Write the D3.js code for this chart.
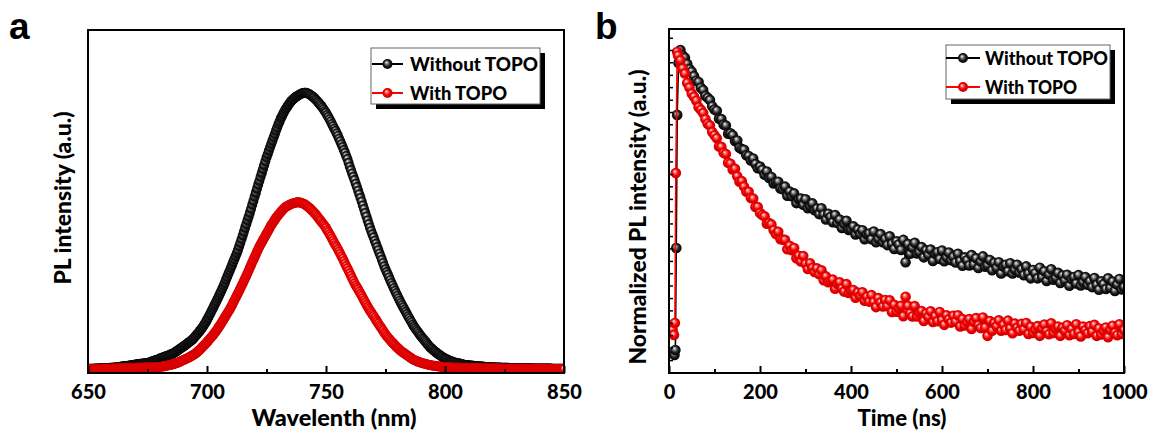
<!DOCTYPE html>
<html>
<head>
<meta charset="utf-8">
<script src="https://cdn.jsdelivr.net/npm/d3@7"></script>
<style>
  html, body { margin: 0; padding: 0; background: #fff; }
  svg { display: block; }
  text { font-family: Lato, "Open Sans", sans-serif; font-weight: 900; fill: #000; }
  .panel-label { font-family: "Liberation Sans", Arial, sans-serif; font-weight: 700; }
</style>
</head>
<body>
<svg id="chart" width="1153" height="437"></svg>
<script>
// ---------- Panel a: steady-state PL spectra (0.5 nm steps from 650 nm) ----------
const wavelengths = d3.range(650, 850.25, 0.5);
const plWithout = [
  .004,.004,.004,.004,.004,.004,.005,.005,.005,.005,
  .005,.006,.006,.006,.006,.007,.007,.007,.007,.008,
  .008,.008,.009,.009,.010,.010,.011,.011,.012,.012,
  .013,.013,.014,.014,.015,.016,.017,.017,.018,.019,
  .020,.020,.021,.021,.022,.022,.023,.023,.024,.024,
  .025,.026,.028,.029,.031,.032,.034,.035,.037,.038,
  .040,.042,.044,.045,.047,.048,.050,.051,.053,.055,
  .057,.058,.060,.063,.066,.069,.072,.075,.078,.081,
  .084,.087,.090,.093,.097,.100,.103,.106,.110,.115,
  .120,.125,.130,.135,.141,.146,.152,.158,.165,.172,
  .180,.188,.197,.205,.214,.222,.231,.239,.248,.257,
  .266,.275,.284,.294,.304,.314,.325,.335,.346,.356,
  .367,.377,.388,.398,.409,.420,.431,.444,.457,.470,
  .484,.497,.511,.524,.538,.551,.565,.579,.594,.608,
  .623,.637,.652,.666,.680,.694,.708,.722,.736,.750,
  .764,.776,.789,.801,.813,.825,.837,.849,.861,.872,
  .884,.894,.905,.913,.922,.930,.938,.944,.951,.957,
  .963,.968,.973,.976,.980,.983,.986,.988,.991,.993,
  .995,.996,.997,.997,.996,.994,.992,.989,.986,.982,
  .979,.974,.970,.965,.960,.955,.950,.944,.938,.931,
  .925,.917,.910,.902,.894,.885,.877,.868,.860,.851,
  .842,.832,.823,.812,.802,.791,.781,.770,.759,.745,
  .731,.719,.707,.695,.683,.670,.658,.645,.632,.619,
  .606,.592,.579,.565,.552,.538,.525,.512,.500,.488,
  .477,.465,.454,.442,.431,.419,.408,.396,.385,.373,
  .362,.352,.343,.333,.323,.313,.304,.294,.285,.276,
  .267,.258,.249,.241,.233,.225,.217,.209,.201,.193,
  .186,.178,.171,.163,.156,.150,.144,.138,.132,.126,
  .121,.115,.110,.105,.100,.094,.089,.084,.080,.076,
  .072,.068,.065,.061,.058,.055,.052,.049,.046,.043,
  .041,.039,.037,.035,.033,.031,.030,.028,.027,.026,
  .025,.024,.023,.022,.021,.020,.019,.018,.018,.017,
  .017,.016,.016,.015,.015,.014,.014,.013,.013,.012,
  .012,.012,.012,.011,.011,.011,.011,.010,.010,.010,
  .010,.010,.009,.009,.009,.009,.009,.008,.008,.008,
  .008,.008,.008,.008,.007,.007,.007,.007,.007,.007,
  .007,.007,.006,.006,.006,.006,.006,.006,.006,.006,
  .006,.006,.006,.006,.005,.005,.005,.005,.005,.005,
  .005,.005,.005,.005,.005,.005,.005,.005,.005,.005,
  .004,.004,.004,.004,.004,.004,.004,.004,.004,.004,
  .004
];
const plWith = [
  .003,.003,.003,.003,.003,.003,.003,.003,.003,.003,
  .003,.003,.004,.004,.004,.004,.004,.004,.004,.004,
  .004,.004,.005,.005,.005,.005,.005,.005,.005,.005,
  .006,.006,.006,.006,.006,.006,.007,.007,.007,.007,
  .007,.007,.008,.008,.008,.008,.008,.008,.009,.009,
  .009,.009,.009,.009,.009,.009,.009,.009,.010,.010,
  .011,.011,.012,.012,.013,.014,.015,.016,.017,.018,
  .019,.020,.021,.022,.024,.025,.027,.029,.031,.033,
  .035,.037,.039,.041,.043,.045,.048,.050,.053,.055,
  .058,.061,.065,.069,.073,.077,.082,.086,.091,.095,
  .100,.105,.110,.115,.120,.125,.130,.136,.142,.148,
  .155,.161,.168,.175,.182,.189,.196,.203,.210,.217,
  .225,.233,.242,.250,.259,.267,.276,.284,.293,.302,
  .311,.320,.329,.338,.348,.358,.368,.377,.387,.396,
  .406,.415,.425,.434,.443,.451,.459,.467,.475,.482,
  .490,.497,.505,.513,.521,.527,.534,.540,.547,.552,
  .558,.563,.568,.573,.578,.582,.586,.588,.591,.593,
  .595,.597,.599,.600,.601,.602,.603,.603,.602,.601,
  .600,.598,.596,.593,.590,.586,.583,.579,.575,.570,
  .566,.561,.556,.550,.545,.539,.534,.528,.523,.517,
  .511,.503,.496,.488,.481,.473,.465,.457,.449,.442,
  .434,.426,.418,.409,.401,.392,.383,.374,.366,.357,
  .348,.339,.330,.321,.312,.304,.297,.290,.282,.274,
  .267,.259,.251,.243,.235,.227,.220,.213,.207,.200,
  .194,.187,.180,.173,.167,.160,.154,.147,.141,.134,
  .128,.122,.117,.112,.107,.102,.098,.093,.089,.084,
  .080,.076,.072,.068,.065,.062,.059,.056,.053,.050,
  .047,.044,.041,.038,.036,.034,.032,.030,.029,.027,
  .026,.024,.023,.022,.021,.020,.019,.018,.017,.016,
  .015,.015,.014,.013,.013,.012,.012,.011,.011,.010,
  .010,.010,.010,.009,.009,.009,.009,.008,.008,.008,
  .008,.008,.008,.007,.007,.007,.007,.007,.007,.007,
  .007,.006,.006,.006,.006,.006,.006,.006,.006,.006,
  .006,.005,.005,.005,.005,.005,.005,.005,.005,.005,
  .005,.005,.005,.005,.005,.005,.005,.004,.004,.004,
  .004,.004,.004,.004,.004,.004,.004,.004,.004,.004,
  .004,.004,.004,.004,.004,.004,.004,.004,.004,.004,
  .004,.004,.004,.004,.004,.004,.004,.004,.004,.004,
  .004,.004,.004,.004,.004,.004,.004,.004,.003,.003,
  .003,.003,.003,.003,.003,.003,.003,.003,.003,.003,
  .003
];
const wlMajorTicks = [650, 700, 750, 800, 850];
const wlMinorTicks = [675, 725, 775, 825];

// ---------- Panel b: normalized TRPL decays ----------
// rising edge, then 5 ns channels
const riseTimesWithout = [12, 14, 16, 18, 21];
const riseWithout = [.056, .071, .387, .799, .960];
const decayTimesWithout = d3.range(25, 1001, 5);
const decayWithout = [
  1.000,.983,.976,.957,.941,.933,.919,.905,.901,.883,
  .876,.858,.852,.845,.826,.816,.812,.787,.786,.769,
  .766,.741,.742,.736,.718,.720,.697,.693,.691,.674,
  .672,.658,.664,.647,.634,.639,.629,.614,.624,.604,
  .607,.587,.591,.592,.571,.569,.577,.549,.562,.547,
  .556,.526,.538,.540,.521,.538,.510,.517,.525,.504,
  .509,.492,.510,.490,.475,.493,.483,.467,.489,.464,
  .475,.449,.462,.471,.443,.445,.454,.429,.444,.431,
  .442,.414,.429,.432,.414,.438,.405,.416,.430,.405,
  .415,.396,.423,.400,.384,.408,.398,.381,.412,.343,
  .399,.369,.388,.403,.370,.375,.390,.358,.380,.366,
  .382,.347,.369,.374,.353,.379,.346,.358,.373,.349,
  .360,.342,.369,.347,.332,.358,.349,.333,.365,.336,
  .355,.325,.345,.361,.329,.334,.350,.318,.341,.326,
  .343,.308,.330,.335,.315,.340,.308,.320,.335,.311,
  .321,.303,.330,.308,.293,.319,.309,.293,.326,.297,
  .315,.285,.305,.321,.289,.295,.310,.279,.302,.287,
  .304,.270,.291,.297,.277,.303,.271,.282,.297,.273,
  .284,.266,.294,.273,.258,.284,.275,.260,.293,.264,
  .283,.254,.274,.291,.259,.266
];
const riseTimesWith = [5, 8, 11, 13, 15, 18];
const riseWith = [.146, .133, .118, .155, .619, .994];
const decayTimesWith = d3.range(20, 1001, 5);
const decayWith = [
  .983,.968,.943,.927,.898,.884,.865,.855,.843,.823,
  .815,.805,.786,.772,.766,.746,.736,.727,.701,.700,
  .682,.678,.651,.648,.630,.632,.609,.592,.594,.577,
  .561,.561,.542,.540,.514,.514,.495,.489,.485,.462,
  .464,.460,.442,.430,.437,.414,.413,.412,.383,.394,
  .380,.387,.355,.363,.345,.362,.338,.322,.340,.325,
  .313,.324,.306,.318,.287,.299,.281,.285,.289,.261,
  .276,.281,.262,.252,.275,.248,.254,.257,.233,.249,
  .239,.250,.224,.236,.221,.241,.220,.204,.232,.218,
  .206,.226,.207,.225,.189,.211,.190,.200,.208,.176,
  .236,.208,.185,.175,.207,.175,.185,.192,.161,.184,
  .174,.191,.158,.176,.160,.189,.164,.149,.179,.166,
  .156,.177,.159,.179,.144,.167,.147,.158,.167,.136,
  .159,.170,.148,.139,.172,.141,.115,.161,.131,.155,
  .145,.163,.131,.149,.133,.162,.138,.123,.153,.140,
  .131,.152,.135,.155,.121,.143,.124,.135,.145,.115,
  .138,.150,.129,.120,.154,.124,.136,.144,.115,.140,
  .131,.148,.117,.136,.121,.151,.127,.113,.144,.132,
  .123,.145,.128,.149,.115,.138,.119,.131,.141,.111,
  .134,.146,.125,.117,.151,.121,.133
];
const timeMajorTicks = [0, 200, 400, 600, 800, 1000];
const timeMinorTicks = [100, 300, 500, 700, 900];
// unlabeled intensity ticks along the left axis
const intensityTicks = [
  1.038, 1.000, .962, .923, .885, .846, .808, .770, .731, .693,
  .655, .616, .578, .539, .501, .463, .424, .386, .347, .309,
  .271, .232, .194, .155, .117, .079, .040
];

const seriesNames = ["Without TOPO", "With TOPO"];

// ---------- drawing ----------
const svg = d3.select("#chart");
const defs = svg.append("defs");

function ballGradient(id, stops) {
  const g = defs.append("radialGradient").attr("id", id)
    .attr("cx", "50%").attr("cy", "50%").attr("r", "50%")
    .attr("fx", "38%").attr("fy", "32%");
  stops.forEach(([o, c]) => g.append("stop").attr("offset", o).attr("stop-color", c));
}
ballGradient("ballBlack", [["0%", "#f7f7f7"], ["28%", "#8c8c8c"], ["60%", "#222"], ["100%", "#000"]]);
ballGradient("ballRed", [["0%", "#ffeeee"], ["28%", "#ff6a6a"], ["60%", "#f20000"], ["100%", "#cc0000"]]);

const styles = [
  { line: "#000", fill: "url(#ballBlack)" },
  { line: "#f00", fill: "url(#ballRed)" }
];

function drawFrame(g, x0, y0, w, h) {
  g.append("rect").attr("x", x0).attr("y", y0).attr("width", w).attr("height", h)
    .attr("fill", "none").attr("stroke", "#000").attr("stroke-width", 2);
}

function drawSeries(g, pts, x, y, st, r) {
  const line = d3.line().x(d => x(d[0])).y(d => y(d[1]));
  g.append("path").datum(pts).attr("d", line)
    .attr("fill", "none").attr("stroke", st.line).attr("stroke-width", 1.6);
  g.selectAll(null).data(pts).join("circle")
    .attr("cx", d => x(d[0])).attr("cy", d => y(d[1])).attr("r", r)
    .attr("fill", st.fill);
}

function drawLegend(g, box, rowY, lineX0, lineX1, textX, textW) {
  const [bx, by, bw, bh] = box;
  g.append("rect").attr("x", bx + 5).attr("y", by + 5).attr("width", bw).attr("height", bh).attr("fill", "#000");
  g.append("rect").attr("x", bx).attr("y", by).attr("width", bw).attr("height", bh)
    .attr("fill", "#fff").attr("stroke", "#666").attr("stroke-width", 1);
  seriesNames.forEach((name, i) => {
    const yy = rowY[i];
    g.append("line").attr("x1", lineX0).attr("x2", lineX1).attr("y1", yy).attr("y2", yy)
      .attr("stroke", styles[i].line).attr("stroke-width", 2);
    g.append("circle").attr("cx", (lineX0 + lineX1) / 2).attr("cy", yy).attr("r", 5).attr("fill", styles[i].fill);
    g.append("text").attr("x", textX).attr("y", yy + 6.5).attr("font-size", 19)
      .attr("textLength", textW[i]).attr("lengthAdjust", "spacingAndGlyphs").text(name);
  });
}

function xAxisTicks(g, x, yBase, major, minor) {
  const ax = g.append("g").attr("transform", `translate(0,${yBase})`);
  ax.call(d3.axisBottom(x).tickValues(major).tickSize(-7).tickPadding(12).tickFormat(d3.format("d")));
  ax.select(".domain").remove();
  ax.selectAll(".tick line").attr("stroke-width", 2);
  ax.selectAll("text").attr("font-size", 20).attr("font-family", "Lato, sans-serif").attr("font-weight", 900);
  const mi = g.append("g").attr("transform", `translate(0,${yBase})`);
  mi.call(d3.axisBottom(x).tickValues(minor).tickSize(-4).tickFormat(""));
  mi.select(".domain").remove();
  mi.selectAll(".tick line").attr("stroke-width", 2);
}

// ===== Panel a =====
{
  const L = 88, R = 564, T = 30, B = 373;
  const x = d3.scaleLinear().domain([650, 850]).range([L, R]);
  const y = d3.scaleLinear().domain([-0.011, 1.223]).range([B, T]);
  const g = svg.append("g");
  defs.append("clipPath").attr("id", "clipA").append("rect").attr("x", L).attr("y", T).attr("width", R - L).attr("height", B - T);
  const plot = g.append("g").attr("clip-path", "url(#clipA)");
  drawSeries(plot, wavelengths.map((w, i) => [w, plWithout[i]]), x, y, styles[0], 5);
  drawSeries(plot, wavelengths.map((w, i) => [w, plWith[i]]), x, y, styles[1], 5);
  xAxisTicks(g, x, B, wlMajorTicks, wlMinorTicks);
  drawFrame(g, L, T, R - L, B - T);
  drawLegend(g, [371, 48, 169, 56], [64, 93], 372, 403, 410, [128, 97]);
  g.append("text").attr("x", 334).attr("y", 426).attr("text-anchor", "middle").attr("font-size", 23)
    .attr("textLength", 165).attr("lengthAdjust", "spacingAndGlyphs").text("Wavelenth (nm)");
  g.append("text").attr("transform", "translate(71,198) rotate(-90)").attr("text-anchor", "middle")
    .attr("font-size", 22).attr("textLength", 173).attr("lengthAdjust", "spacingAndGlyphs").text("PL intensity (a.u.)");
  g.append("text").attr("class", "panel-label").attr("x", 9).attr("y", 38.5).attr("font-size", 37).text("a");
}

// ===== Panel b =====
{
  const L = 669, R = 1124, T = 29, B = 373;
  const x = d3.scaleLinear().domain([0, 1000]).range([L, R]);
  const y = d3.scaleLinear().domain([0, 1.065]).range([B, T]);
  const g = svg.append("g");
  defs.append("clipPath").attr("id", "clipB").append("rect").attr("x", L).attr("y", T).attr("width", R - L).attr("height", B - T);
  const plot = g.append("g").attr("clip-path", "url(#clipB)");
  const ptsWithout = riseTimesWithout.map((t, i) => [t, riseWithout[i]])
    .concat(decayTimesWithout.map((t, i) => [t, decayWithout[i]]));
  const ptsWith = riseTimesWith.map((t, i) => [t, riseWith[i]])
    .concat(decayTimesWith.map((t, i) => [t, decayWith[i]]));
  const ya = g.append("g").attr("transform", `translate(${L},0)`);
  ya.call(d3.axisLeft(y).tickValues(intensityTicks).tickSize(-4).tickFormat(""));
  ya.select(".domain").remove();
  ya.selectAll(".tick line").attr("stroke-width", 1.5);
  drawSeries(plot, ptsWithout, x, y, styles[0], 5.3);
  drawSeries(plot, ptsWith, x, y, styles[1], 5.3);
  xAxisTicks(g, x, B, timeMajorTicks, timeMinorTicks);
  drawFrame(g, L, T, R - L, B - T);
  drawLegend(g, [946, 45, 164, 54], [58, 87], 946, 980, 985, [123, 92]);
  g.append("text").attr("x", 902).attr("y", 426).attr("text-anchor", "middle").attr("font-size", 23)
    .attr("textLength", 89).attr("lengthAdjust", "spacingAndGlyphs").text("Time (ns)");
  g.append("text").attr("transform", "translate(646,217) rotate(-90)").attr("text-anchor", "middle")
    .attr("font-size", 22).attr("textLength", 295).attr("lengthAdjust", "spacingAndGlyphs").text("Normalized PL intensity (a.u.)");
  g.append("text").attr("class", "panel-label").attr("x", 595).attr("y", 38.5).attr("font-size", 37).text("b");
}
</script>
</body>
</html>
